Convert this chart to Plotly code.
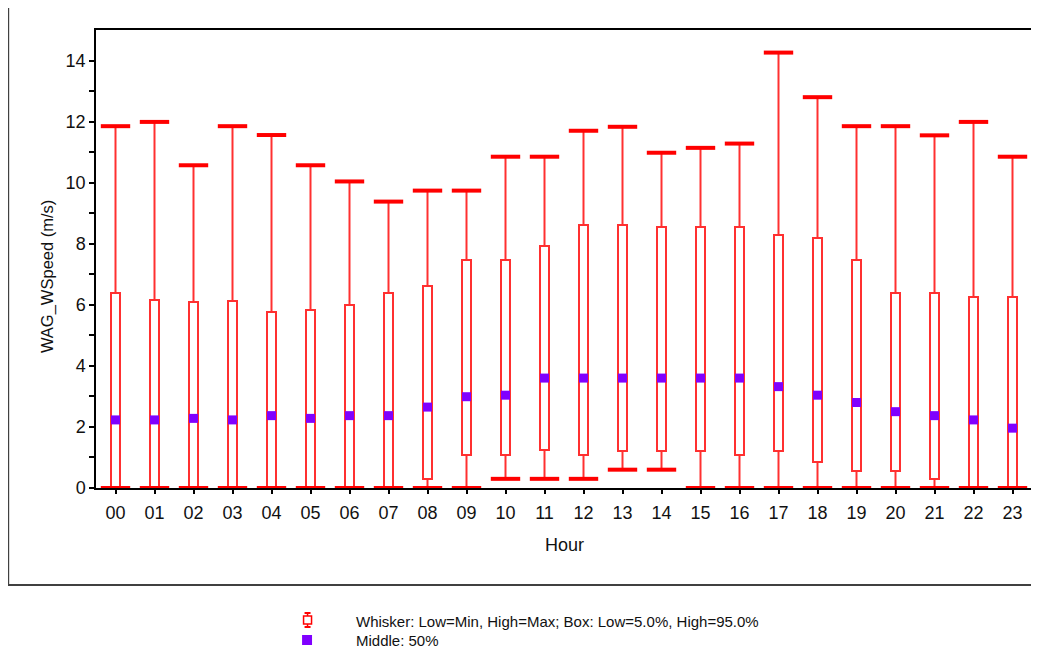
import plotly.graph_objects as go

hours = ["00", "01", "02", "03", "04", "05", "06", "07", "08", "09", "10", "11",
         "12", "13", "14", "15", "16", "17", "18", "19", "20", "21", "22", "23"]
whisker_low = [0, 0, 0, 0, 0, 0, 0, 0, 0, 0, 0.3, 0.3,
               0.3, 0.6, 0.6, 0, 0, 0, 0, 0, 0, 0, 0, 0]
box_low = [0, 0, 0, 0, 0, 0, 0, 0, 0.28, 1.08, 1.08, 1.24,
           1.08, 1.22, 1.22, 1.22, 1.08, 1.22, 0.85, 0.57, 0.57, 0.28, 0, 0]
box_high = [6.40, 6.16, 6.08, 6.12, 5.75, 5.84, 5.98, 6.40, 6.62, 7.48, 7.48, 7.93,
            8.62, 8.62, 8.56, 8.56, 8.56, 8.30, 8.20, 7.48, 6.40, 6.40, 6.26, 6.26]
whisker_high = [11.85, 11.99, 10.57, 11.85, 11.56, 10.57, 10.04, 9.38, 9.74, 9.74, 10.85, 10.85,
                11.70, 11.83, 10.98, 11.14, 11.28, 14.26, 12.80, 11.85, 11.85, 11.55, 11.99, 10.85]
middle = [2.23, 2.23, 2.28, 2.23, 2.37, 2.28, 2.37, 2.37, 2.65, 2.99, 3.04, 3.60,
          3.60, 3.60, 3.60, 3.60, 3.60, 3.32, 3.04, 2.80, 2.50, 2.37, 2.23, 1.96]

y_ticks = [0, 2, 4, 6, 8, 10, 12, 14]
y_title = "WAG_WSpeed (m/s)"
x_title = "Hour"
legend_whisker = "Whisker: Low=Min, High=Max; Box: Low=5.0%, High=95.0%"
legend_middle = "Middle: 50%"

RED = "#ff0000"
LINE_RED = "#ff3030"
PURPLE = "#8000ff"
FONT = "Liberation Sans, Arial, sans-serif"
NARROW = "Liberation Sans Narrow, Arial Narrow, Liberation Sans, sans-serif"

# whisker segments (below and above the box)
wx, wy = [], []
for h, lo, bl, bh, hi in zip(hours, whisker_low, box_low, box_high, whisker_high):
    wx += [h, h, None, h, h, None]
    wy += [lo, bl, None, bh, hi, None]

fig = go.Figure()
fig.add_trace(go.Scatter(x=wx, y=wy, mode="lines", line=dict(color=LINE_RED, width=2),
                         cliponaxis=False, showlegend=False, hoverinfo="skip"))
fig.add_trace(go.Bar(x=hours, y=[h - l for h, l in zip(box_high, box_low)], base=box_low,
                     width=0.23, marker=dict(color="white", line=dict(color=LINE_RED, width=2)),
                     showlegend=False))
fig.add_trace(go.Scatter(x=hours + hours, y=whisker_low + whisker_high, mode="markers",
                         marker=dict(symbol="line-ew", size=21, line=dict(color=RED, width=4)),
                         cliponaxis=False, showlegend=False))
fig.add_trace(go.Scatter(x=hours, y=middle, mode="markers",
                         marker=dict(symbol="square", size=9, color=PURPLE, line=dict(width=0)),
                         cliponaxis=False, showlegend=False))

# the page body adds an 8px margin; work in screenshot pixels and shift
OFF = 8
W, H = 1039 - OFF, 650 - OFF
L, T = 96 - OFF, 30 - OFF
PR, PB = 1034 - OFF, 488 - OFF
R, B = W - PR, H - PB
pw, ph = PR - L, PB - T


def px(x):
    return (x - OFF - L) / pw


def py(y):
    return (PB - (y - OFF)) / ph


shapes = [
    # outer frame
    dict(type="rect", xref="paper", yref="paper", x0=px(8), x1=px(1050), y0=py(585), y1=py(6),
         line=dict(color="#404040", width=2), layer="below"),
    # legend icon: whisker/box
    dict(type="line", xref="paper", yref="paper", x0=px(308), x1=px(308), y0=py(628), y1=py(612),
         line=dict(color=RED, width=1.5)),
    dict(type="line", xref="paper", yref="paper", x0=px(305), x1=px(311), y0=py(613), y1=py(613),
         line=dict(color=RED, width=2)),
    dict(type="line", xref="paper", yref="paper", x0=px(305), x1=px(311), y0=py(627), y1=py(627),
         line=dict(color=RED, width=2)),
    dict(type="rect", xref="paper", yref="paper", x0=px(304), x1=px(312), y0=py(624), y1=py(616),
         fillcolor="white", line=dict(color=RED, width=1.5)),
    # legend icon: middle
    dict(type="rect", xref="paper", yref="paper", x0=px(302.5), x1=px(312.5), y0=py(645), y1=py(635),
         fillcolor=PURPLE, line=dict(width=0)),
]

annotations = [
    dict(text=x_title, xref="paper", yref="paper", x=0.5, y=py(545), showarrow=False,
         xanchor="center", yanchor="middle", font=dict(family=FONT, size=18, color="#111")),
    dict(text=y_title, xref="paper", yref="paper", x=px(47), y=py(277), showarrow=False,
         textangle=-90, xanchor="center", yanchor="middle", font=dict(family=NARROW, size=16.5, color="#111")),
    dict(text=legend_whisker, xref="paper", yref="paper", x=px(355), y=py(621), showarrow=False,
         xanchor="left", yanchor="middle", font=dict(family=FONT, size=15, color="#111")),
    dict(text=legend_middle, xref="paper", yref="paper", x=px(355), y=py(640), showarrow=False,
         xanchor="left", yanchor="middle", font=dict(family=FONT, size=15, color="#111")),
]

fig.update_layout(
    width=W, height=H, autosize=False,
    margin=dict(l=L, r=R, t=T, b=B, pad=0),
    paper_bgcolor="white", plot_bgcolor="white",
    font=dict(family=FONT, size=18, color="#111"),
    bargap=0, showlegend=False,
    shapes=shapes, annotations=annotations,
    xaxis=dict(type="category", range=[-0.5, 23.5], showgrid=False, zeroline=False,
               showline=True, linecolor="black", linewidth=1.5, mirror=True,
               ticks="outside", ticklen=4, tickcolor="black", tickwidth=1.5,
               tickfont=dict(family=FONT, size=18, color="#111"), ticklabelstandoff=4,
               fixedrange=True),
    yaxis=dict(range=[0, 15], tickvals=y_ticks, showgrid=False, zeroline=False,
               showline=True, linecolor="black", linewidth=1.5, mirror=True,
               ticks="outside", ticklen=5, tickcolor="black", tickwidth=1.5,
               minor=dict(tickvals=[1, 3, 5, 7, 9, 11, 13], ticks="outside", ticklen=5,
                          tickcolor="black", tickwidth=1.5, showgrid=False),
               tickfont=dict(family=FONT, size=18, color="#111"), fixedrange=True),
)

fig.write_html("out.html")
